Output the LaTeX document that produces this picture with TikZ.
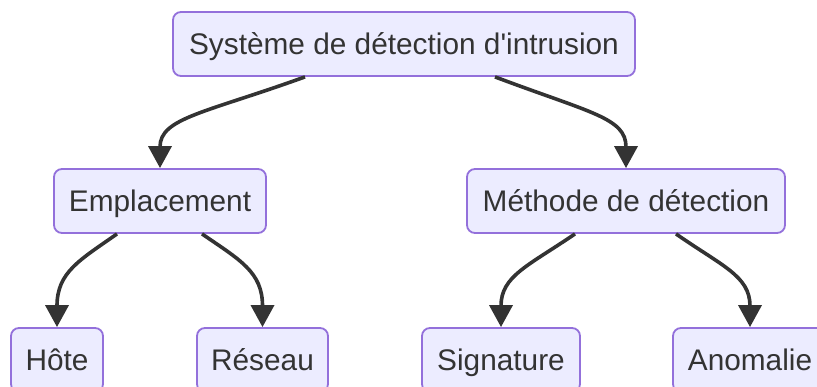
\documentclass[tikz,border=0pt]{standalone}
\usepackage{fontspec}
\setmainfont{Liberation Sans}[Ligatures=TeXOff]
\usetikzlibrary{arrows.meta,calc}
\definecolor{boxfill}{HTML}{ECECFF}
\definecolor{boxline}{HTML}{9370DB}
\definecolor{ink}{HTML}{333333}
\tikzset{
  box/.style={draw=boxline, fill=boxfill, line width=1.8pt, rounded corners=8pt,
    minimum height=64pt, inner sep=0pt, text=ink,
    text height=21.3pt, text depth=0pt,
    font=\fontsize{29.8}{35}\selectfont},
  link/.style={draw=ink, line width=3.6pt,
    -{Triangle[length=22pt,width=23pt]}},
}
\begin{document}
\begin{tikzpicture}[x=1pt,y=-1pt]
  \useasboundingbox (0,0) rectangle (817,387);
  \clip (0,0) rectangle (817,387);
  % hierarchy of boxes
  \node[box, minimum width=462pt] (ids) at (404,44) {Système de détection d'intrusion};
  \node[box, minimum width=212pt] (emp) at (160,201) {Emplacement};
  \node[box, minimum width=318pt] (meth) at (626,201) {Méthode de détection};
  \node[box, minimum width=92pt]  (host) at (57,360) {Hôte};
  \node[box, minimum width=131pt] (net) at (262.5,360) {Réseau};
  \node[box, minimum width=158pt] (sig) at (501,360) {Signature};
  \node[box, minimum width=154pt] (anom) at (750,360) {Anomalie};
  % curved connectors
  \draw[link] ($(ids.south)+(-99,0)$) .. controls (205,113) and (160,118) .. (emp.north);
  \draw[link] ($(ids.south)+(91,0)$) .. controls (591,113) and (626,118) .. (meth.north);
  \draw[link] ($(emp.south)+(-43,0)$) .. controls (80,260) and (57,272) .. (host.north);
  \draw[link] ($(emp.south)+(42,0)$) .. controls (240,260) and (262.5,272) .. (net.north);
  \draw[link] ($(meth.south)+(-51,0)$) .. controls (528,266) and (501,276) .. (sig.north);
  \draw[link] ($(meth.south)+(50,0)$) .. controls (722,266) and (750,276) .. (anom.north);
\end{tikzpicture}
\end{document}
